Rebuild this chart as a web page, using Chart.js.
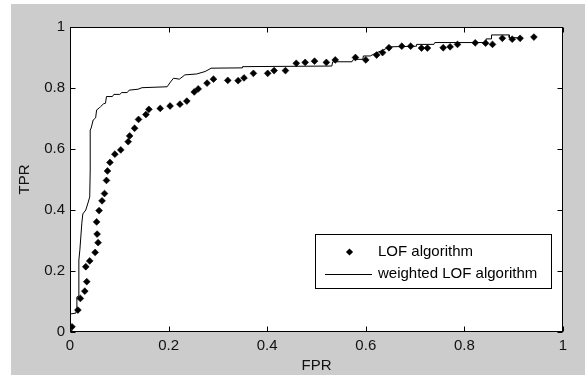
<!DOCTYPE html>
<html><head><meta charset="utf-8">
<script src="https://cdn.jsdelivr.net/npm/chart.js@4.4.1/dist/chart.umd.min.js"></script>
<style>
html,body{margin:0;padding:0;background:#fff;width:585px;height:375px;overflow:hidden;}
#fig{position:absolute;left:11px;top:4px;width:574px;height:371px;background:#cccccc;}
canvas{display:block;}
</style></head><body>
<div id="fig"><canvas id="c" width="574" height="371"></canvas></div>
<script>
const xTicks=[0,0.2,0.4,0.6,0.8,1];
const xTickLabels=['0','0.2','0.4','0.6','0.8','1'];
const yTicks=[0,0.2,0.4,0.6,0.8,1];
const yTickLabels=['0','0.2','0.4','0.6','0.8','1'];
const xTitle='FPR';
const yTitle='TPR';
const seriesNames=['LOF algorithm','weighted LOF algorithm'];

const lofFPR=[0,0.004,0.016,0.021,0.030,0.034,0.032,0.040,0.051,0.057,0.055,0.054,0.059,0.065,0.070,0.074,0.076,0.081,0.091,0.103,0.118,0.121,0.131,0.139,0.154,0.160,0.183,0.203,0.223,0.237,0.252,0.260,0.278,0.291,0.320,0.341,0.353,0.372,0.401,0.414,0.437,0.459,0.477,0.496,0.520,0.538,0.579,0.600,0.622,0.634,0.647,0.673,0.691,0.713,0.725,0.757,0.771,0.786,0.822,0.843,0.857,0.877,0.897,0.913,0.941];
const lofTPR=[0,0.017,0.072,0.110,0.134,0.165,0.214,0.233,0.261,0.293,0.321,0.361,0.398,0.430,0.454,0.497,0.528,0.556,0.583,0.597,0.624,0.643,0.668,0.697,0.713,0.730,0.733,0.741,0.747,0.757,0.787,0.797,0.816,0.829,0.825,0.824,0.833,0.848,0.848,0.857,0.857,0.881,0.884,0.888,0.884,0.892,0.900,0.892,0.908,0.916,0.932,0.937,0.937,0.931,0.931,0.932,0.935,0.943,0.948,0.947,0.943,0.963,0.960,0.963,0.967];

const wFPR=[0,0,0.012,0.014,0.014,0.018,0.018,0.020,0.024,0.026,0.032,0.037,0.040,0.041,0.041,0.043,0.047,0.052,0.054,0.059,0.062,0.068,0.072,0.074,0.086,0.089,0.101,0.105,0.116,0.120,0.138,0.146,0.197,0.204,0.210,0.222,0.233,0.257,0.274,0.282,0.286,0.349,0.350,0.531,0.533,0.572,0.575,0.594,0.595,0.609,0.622,0.632,0.642,0.649,0.702,0.703,0.738,0.740,0.844,0.844,0.855,0.855,0.891,0.891,0.907];
const wTPR=[0,0.059,0.062,0.079,0.115,0.118,0.236,0.269,0.357,0.387,0.400,0.426,0.443,0.531,0.662,0.669,0.695,0.702,0.728,0.734,0.739,0.748,0.750,0.772,0.772,0.779,0.779,0.785,0.785,0.793,0.796,0.801,0.804,0.820,0.832,0.829,0.843,0.846,0.854,0.861,0.865,0.866,0.870,0.872,0.886,0.886,0.894,0.894,0.905,0.905,0.916,0.922,0.930,0.935,0.937,0.943,0.943,0.949,0.949,0.961,0.961,0.974,0.974,0.965,0.965];

const FONT='"Liberation Sans", Arial, Helvetica, sans-serif';

const framePlugin={
  id:'frame',
  beforeDatasetsDraw(chart){
    const {ctx,chartArea:a}=chart;
    ctx.save();ctx.fillStyle='#ffffff';
    ctx.fillRect(a.left,a.top,a.right-a.left,a.bottom-a.top);
    ctx.restore();
  },
  afterDatasetsDraw(chart){
    const {ctx,chartArea:a,scales:{x,y}}=chart;
    ctx.save();
    ctx.strokeStyle='#000';ctx.lineWidth=1;
    const L=Math.round(a.left)+0.5,R=Math.round(a.right)-0.5,T=Math.round(a.top)+0.5,B=Math.round(a.bottom)-0.5;
    ctx.strokeRect(L,T,R-L,B-T);
    const tl=5;
    ctx.beginPath();
    xTicks.forEach(v=>{const px=Math.round(x.getPixelForValue(v))+0.5;ctx.moveTo(px,B);ctx.lineTo(px,B-tl);ctx.moveTo(px,T);ctx.lineTo(px,T+tl);});
    yTicks.forEach(v=>{const py=Math.round(y.getPixelForValue(v))+0.5;ctx.moveTo(L,py);ctx.lineTo(L+tl,py);ctx.moveTo(R,py);ctx.lineTo(R-tl,py);});
    ctx.stroke();
    // legend box
    const bx=304.5,by=230.5,bw=236,bh=54;
    ctx.fillStyle='#fff';ctx.fillRect(bx,by,bw,bh);
    ctx.strokeRect(bx,by,bw,bh);
    ctx.fillStyle='#000';
    ctx.beginPath();
    const mx=338.5,my=248,r=3.6;
    ctx.moveTo(mx,my-r);ctx.lineTo(mx+r,my);ctx.lineTo(mx,my+r);ctx.lineTo(mx-r,my);ctx.closePath();ctx.fill();
    ctx.beginPath();ctx.moveTo(314,270.5);ctx.lineTo(361,270.5);ctx.stroke();
    ctx.font='15px '+FONT;ctx.textBaseline='middle';ctx.textAlign='left';
    ctx.fillText(seriesNames[0],367,248);
    ctx.fillText(seriesNames[1],367,270);
    ctx.restore();
  }
};

new Chart(document.getElementById('c'),{
  type:'scatter',
  data:{datasets:[
    {label:seriesNames[0],data:lofFPR.map((v,i)=>({x:v,y:lofTPR[i]})),pointStyle:'rectRot',pointRadius:3.4,pointBackgroundColor:'#000',pointBorderColor:'#000',pointBorderWidth:0.6,showLine:false},
    {label:seriesNames[1],data:wFPR.map((v,i)=>({x:v,y:wTPR[i]})),showLine:true,borderColor:'#000',borderWidth:1,pointRadius:0,tension:0,fill:false}
  ]},
  options:{
    responsive:false,animation:false,devicePixelRatio:1,
    layout:{padding:{top:23,right:22,left:0,bottom:0}},
    plugins:{legend:{display:false},tooltip:{enabled:false}},
    scales:{
      x:{type:'linear',min:0,max:1,position:'bottom',
        afterBuildTicks:s=>{s.ticks=xTicks.map(v=>({value:v}));},
        afterFit:s=>{s.height=43;},
        grid:{display:false,drawTicks:false},border:{display:false},
        ticks:{callback:(v,i)=>xTickLabels[i],color:'#111',font:{family:FONT,size:15},padding:5,maxRotation:0,autoSkip:false},
        title:{display:true,text:xTitle,color:'#111',font:{family:FONT,size:15},padding:{top:0,bottom:0}}
      },
      y:{type:'linear',min:0,max:1,position:'left',
        afterBuildTicks:s=>{s.ticks=yTicks.map(v=>({value:v}));},
        afterFit:s=>{s.width=59;},
        grid:{display:false,drawTicks:false},border:{display:false},
        ticks:{callback:(v,i)=>yTickLabels[i],color:'#111',font:{family:FONT,size:15},padding:5,autoSkip:false},
        title:{display:true,text:yTitle,color:'#111',font:{family:FONT,size:15},padding:{top:5,bottom:0}}
      }
    }
  },
  plugins:[framePlugin]
});
</script>
</body></html>
